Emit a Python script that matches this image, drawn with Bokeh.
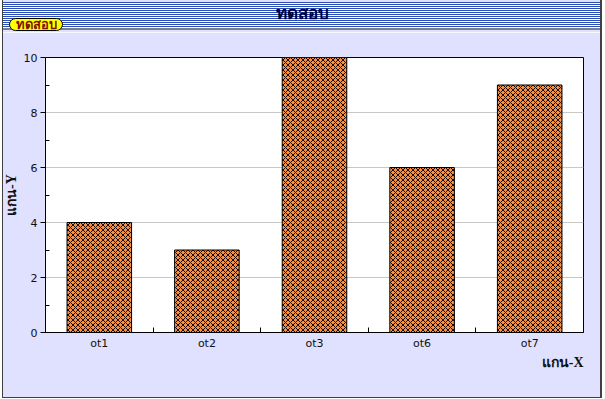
from bokeh.plotting import figure
from bokeh.layouts import column
from bokeh.models import FixedTicker, Range1d, Div, InlineStyleSheet, Title
from bokeh.embed import file_html
from bokeh.resources import INLINE

categories = ["ot1", "ot2", "ot3", "ot6", "ot7"]
values = [4, 3, 10, 6, 9]
y_ticks = [0, 2, 4, 6, 8, 10]
y_minor = [1, 3, 5, 7, 9]
title_text = "ทดสอบ"
badge_text = "ทดสอบ"
x_label = "แกน-X"
y_label = "แกน-Y"

W = 605
TOP_H = 32
MAIN_H = 367
BG = "#E0E0FF"

# ---- title bar (HTML) ----
header_html = f"""
<div style="position:relative;width:{W}px;height:{TOP_H}px;background:{BG};overflow:visible;">
  <div style="position:absolute;left:3px;top:2px;width:598px;height:26px;
       background:repeating-linear-gradient(to bottom,#2C4DB6 0px,#2C4DB6 1px,#FFFFFF 1px,#FFFFFF 2px);"></div>
  <div style="position:absolute;left:3px;top:28px;width:598px;height:2px;background:#7C7C90;"></div>
  <div style="position:absolute;left:3px;top:4px;width:598px;text-align:center;
       font-family:'Noto Sans',sans-serif;font-weight:bold;font-size:17px;line-height:17px;
       color:#000033;white-space:nowrap;">{title_text}</div>
  <div style="position:absolute;left:9px;top:18px;width:54px;height:13px;box-sizing:border-box;
       background:#FFFF00;border:1px solid #000000;border-radius:7px;text-align:center;
       font-family:'Noto Sans',sans-serif;font-weight:bold;font-size:13px;line-height:10px;
       color:#7A1500;white-space:nowrap;overflow:visible;">{badge_text}</div>
</div>
"""
header = Div(text=header_html, width=W, height=TOP_H, margin=0)

# ---- main chart ----
p = figure(width=W, height=MAIN_H, output_backend="svg", toolbar_location=None,
           x_range=Range1d(0, len(categories)), y_range=Range1d(0, 10),
           min_border_left=44, min_border_right=22, min_border_top=25, min_border_bottom=67,
           background_fill_color="white", border_fill_color=BG,
           outline_line_color="black")

xs = [i + 0.5 for i in range(len(categories))]
p.vbar(x=xs, top=values, bottom=0, width=0.6,
       fill_color="#F39243", line_color="black", line_width=1,
       hatch_pattern="x", hatch_scale=5, hatch_color="#1a0500", hatch_weight=1)

xa = p.xaxis[0]
xa.ticker = FixedTicker(ticks=xs, minor_ticks=list(range(1, len(categories))))
xa.major_label_overrides = {x: c for x, c in zip(xs, categories)}
xa.major_tick_out = 0
xa.major_tick_in = 0
xa.minor_tick_in = 5
xa.minor_tick_out = 0
xa.minor_tick_line_color = "black"
xa.axis_line_color = "black"
xa.major_label_standoff = 4
xa.major_label_text_font = "DejaVu Sans"
xa.major_label_text_font_size = "11px"
xa.major_label_text_color = "#101010"

ya = p.yaxis[0]
ya.ticker = FixedTicker(ticks=y_ticks, minor_ticks=y_minor)
ya.major_tick_out = 5
ya.major_tick_in = 0
ya.minor_tick_in = 4
ya.minor_tick_out = 0
ya.major_tick_line_color = "black"
ya.minor_tick_line_color = "black"
ya.axis_line_color = "black"
ya.major_label_standoff = 3
ya.major_label_text_font = "DejaVu Sans"
ya.major_label_text_font_size = "11px"
ya.major_label_text_color = "#101010"
ya.axis_label = y_label
ya.axis_label_standoff = 2
ya.axis_label_text_font = "Liberation Serif"
ya.axis_label_text_font_style = "bold"
ya.axis_label_text_font_size = "14px"
ya.axis_label_text_color = "#101010"

p.xgrid.visible = False
p.ygrid.grid_line_color = "#C8C8C8"

# x-axis title, right-aligned to the plot frame
p.add_layout(Title(text=x_label, align="right", standoff=0,
                   text_font="Liberation Serif", text_font_style="bold",
                   text_font_size="14px", text_color="#101010"), "below")

border_css = InlineStyleSheet(css="""
:host { position: relative; }
:host::after {
  content: ''; position: absolute; left: 2px; top: 0px; width: 600px; height: 398px;
  box-sizing: border-box; border: 1px solid #404040; border-right-width: 2px; border-top: none;
  box-shadow: 0 0 0 4px #FFFFFF; pointer-events: none; z-index: 1000;
}
""")

layout = column(header, p, spacing=0, stylesheets=[border_css])

open("out.html", "w").write(file_html(layout, INLINE))
